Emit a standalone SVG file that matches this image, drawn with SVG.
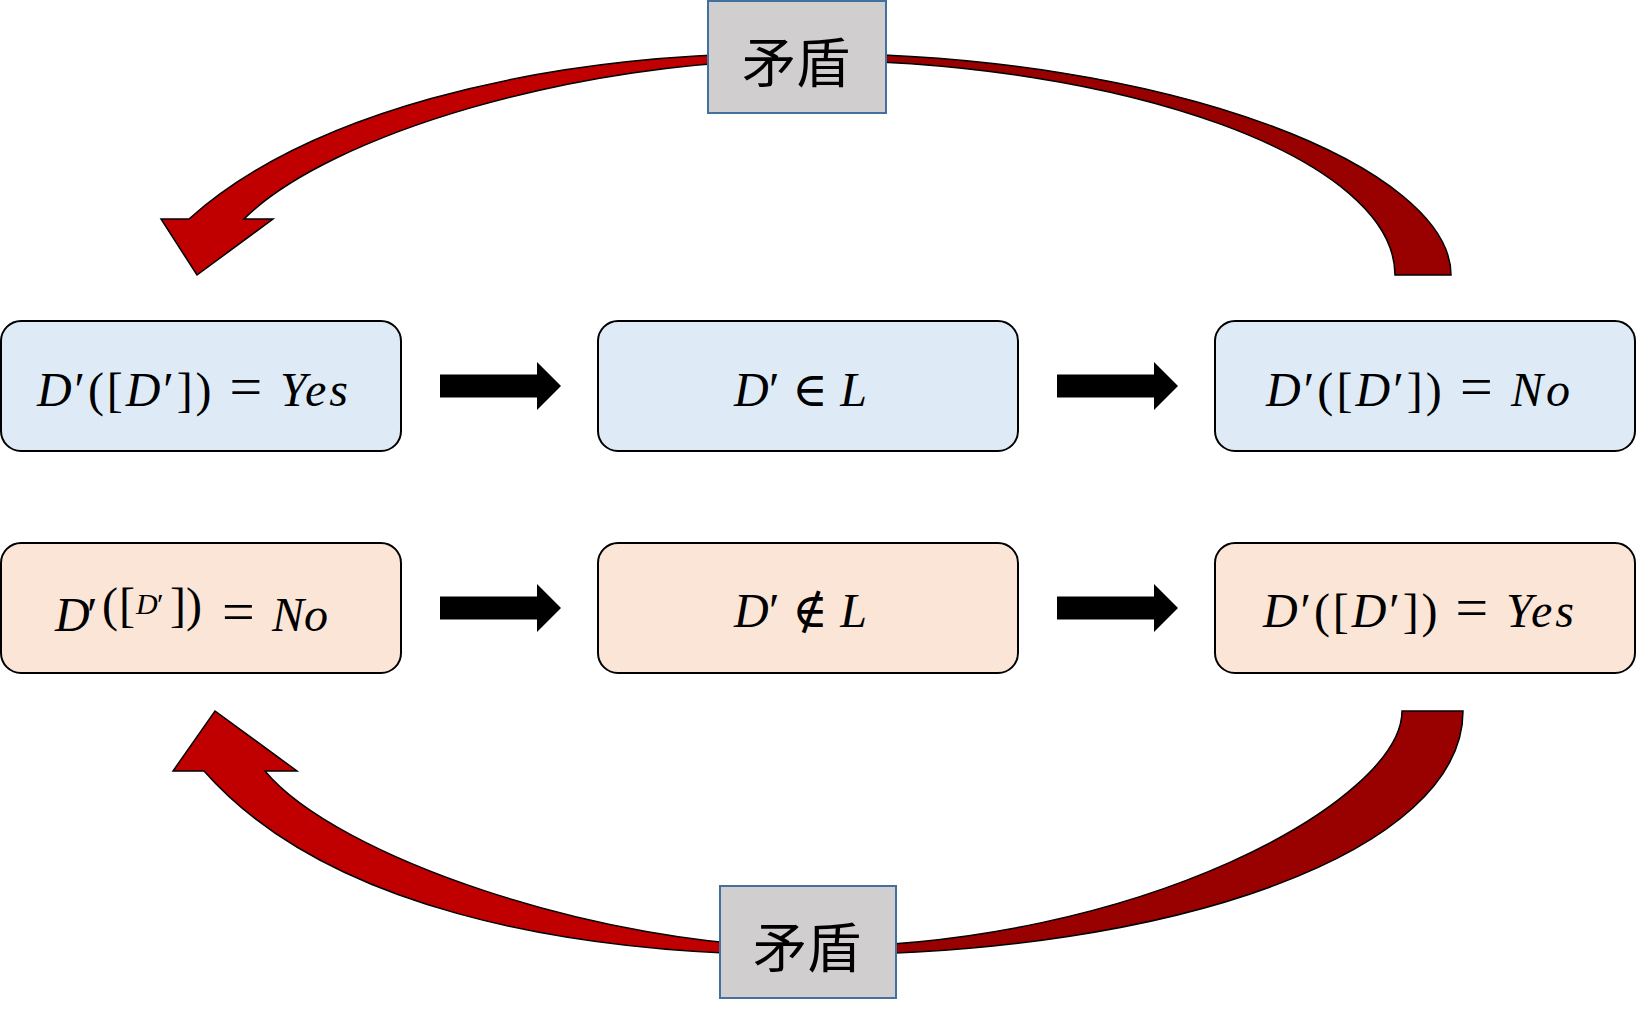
<svg xmlns="http://www.w3.org/2000/svg" width="1637" height="1014" viewBox="0 0 1637 1014">
<defs>
<style>
.box{stroke:#000;stroke-width:2}
.blue{fill:#DEEBF7}
.peach{fill:#FBE5D6}
.m{font-family:"Liberation Serif","DejaVu Serif",serif;font-size:48px;fill:#000}
.i{font-style:italic}
.eq{font-size:58px}
.lbl rect{fill:#D0CECE;stroke:#41719C;stroke-width:2}
.lbl text{font-family:"Noto Sans CJK SC","Noto Sans CJK JP",sans-serif;font-size:54px;fill:#000;text-anchor:middle}
.red{stroke:#000;stroke-width:1.5;stroke-linejoin:miter}
.blk{fill:#000}
</style>
<linearGradient id="gTop" gradientUnits="userSpaceOnUse" x1="160" y1="0" x2="1451" y2="0">
<stop offset="0" stop-color="#C00000"/>
<stop offset="0.49" stop-color="#C00000"/>
<stop offset="0.49" stop-color="#990000"/>
<stop offset="1" stop-color="#990000"/>
</linearGradient>
<linearGradient id="gBot" gradientUnits="userSpaceOnUse" x1="172" y1="0" x2="1463" y2="0">
<stop offset="0" stop-color="#C00000"/>
<stop offset="0.49" stop-color="#C00000"/>
<stop offset="0.49" stop-color="#990000"/>
<stop offset="1" stop-color="#990000"/>
</linearGradient>
<path id="blkArrow" d="M0,-11.5 H97 V-24 L121,0 L97,24 V11.5 H0 Z"/>
</defs>
<rect width="1637" height="1014" fill="#fff"/>

<g id="connectors">
<path class="red" fill="url(#gTop)" d="M1451,275 C1451,170 1180,53 800,53 C520,53 300,119 189,219 L161,219 L197,275 L273,219 L244,219 C329,134 580,60 800,60 C1130,60 1395,160 1395,275 Z"/>
<path class="red" fill="url(#gBot)" d="M1463,711 C1463,850 1180,955 810,955 C560,955 323,906 204,771 L173,771 L215,711 L297,771 L265,771 C335,856 600,947 810,947 C1140,947 1402,800 1402,711 Z"/>
<use href="#blkArrow" class="blk" x="440" y="386"/>
<use href="#blkArrow" class="blk" x="1057" y="386"/>
<use href="#blkArrow" class="blk" x="440" y="608"/>
<use href="#blkArrow" class="blk" x="1057" y="608"/>
</g>

<g id="label-top" class="lbl">
<rect x="708" y="1" width="178" height="112"/>
<text x="796" y="83">矛盾</text>
</g>
<g id="label-bottom" class="lbl">
<rect x="720" y="886" width="176" height="112"/>
<text x="807" y="968">矛盾</text>
</g>

<g id="node-yes-top">
<rect class="box blue" x="1" y="321" width="400" height="130" rx="20"/>
<text class="m" x="37" y="406" textLength="311" lengthAdjust="spacing"><tspan class="i">D</tspan>′([<tspan class="i">D</tspan>′]) <tspan class="eq">=</tspan> <tspan class="i">Yes</tspan></text>
</g>
<g id="node-in-L">
<rect class="box blue" x="598" y="321" width="420" height="130" rx="20"/>
<text class="m" x="734" y="406" textLength="133" lengthAdjust="spacing"><tspan class="i">D</tspan>′ ∈ <tspan class="i">L</tspan></text>
</g>
<g id="node-no-top">
<rect class="box blue" x="1215" y="321" width="420" height="130" rx="20"/>
<text class="m" x="1266" y="406" textLength="304" lengthAdjust="spacing"><tspan class="i">D</tspan>′([<tspan class="i">D</tspan>′]) <tspan class="eq">=</tspan> <tspan class="i">No</tspan></text>
</g>

<g id="node-no-bottom">
<rect class="box peach" x="1" y="543" width="400" height="130" rx="20"/>
<text class="m"><tspan class="i" x="55" y="631">D</tspan><tspan x="87" y="631">′</tspan><tspan x="102" y="621">(</tspan><tspan x="119" y="621">[</tspan><tspan class="i" x="136" y="614" font-size="30">D</tspan><tspan x="157" y="614" font-size="30">′</tspan><tspan x="170" y="621">]</tspan><tspan x="186" y="621">)</tspan><tspan class="eq" x="222" y="631">=</tspan><tspan class="i" x="272" y="631">No</tspan></text>
</g>
<g id="node-notin-L">
<rect class="box peach" x="598" y="543" width="420" height="130" rx="20"/>
<text class="m" x="734" y="627" textLength="133" lengthAdjust="spacing"><tspan class="i">D</tspan>′ ∉ <tspan class="i">L</tspan></text>
</g>
<g id="node-yes-bottom">
<rect class="box peach" x="1215" y="543" width="420" height="130" rx="20"/>
<text class="m" x="1263" y="627" textLength="311" lengthAdjust="spacing"><tspan class="i">D</tspan>′([<tspan class="i">D</tspan>′]) <tspan class="eq">=</tspan> <tspan class="i">Yes</tspan></text>
</g>
</svg>
